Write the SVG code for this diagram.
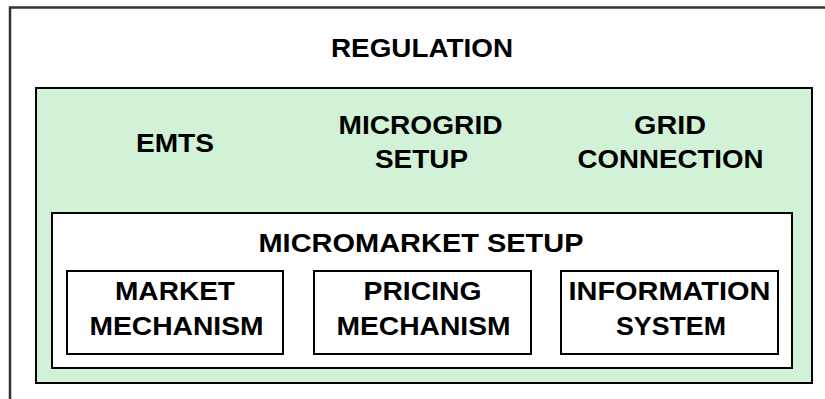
<svg xmlns="http://www.w3.org/2000/svg" width="825" height="399" viewBox="0 0 825 399">
<style>
.t{font-family:"Liberation Sans",Arial,sans-serif;font-weight:bold;font-size:25px;fill:#000;}
.box{fill:#fff;stroke:#000;stroke-width:2;}
</style>
<rect width="825" height="399" fill="#fff"/>
<g id="regulation">
<rect x="10" y="7.5" width="830" height="400" fill="#fff" stroke="#333" stroke-width="2.5"/>
<text class="t" x="331" y="57" textLength="182" lengthAdjust="spacingAndGlyphs">REGULATION</text>
</g>
<g id="green">
<rect x="36" y="88" width="776" height="295" fill="#d2f2d7" stroke="#000" stroke-width="2"/>
</g>
<g id="emts">
<text class="t" x="136" y="152" textLength="78" lengthAdjust="spacingAndGlyphs">EMTS</text>
</g>
<g id="microgrid-setup">
<text class="t" x="338.5" y="134" textLength="164" lengthAdjust="spacingAndGlyphs">MICROGRID</text>
<text class="t" x="375" y="168" textLength="93" lengthAdjust="spacingAndGlyphs">SETUP</text>
</g>
<g id="grid-connection">
<text class="t" x="634" y="134" textLength="72" lengthAdjust="spacingAndGlyphs">GRID</text>
<text class="t" x="577.5" y="168" textLength="186" lengthAdjust="spacingAndGlyphs">CONNECTION</text>
</g>
<g id="micromarket-setup">
<rect class="box" x="52" y="213" width="740" height="155"/>
<text class="t" x="258.5" y="251.5" textLength="325" lengthAdjust="spacingAndGlyphs">MICROMARKET SETUP</text>
</g>
<g id="market-mechanism">
<rect class="box" x="67" y="271" width="216" height="83"/>
<text class="t" x="115" y="300" textLength="120" lengthAdjust="spacingAndGlyphs">MARKET</text>
<text class="t" x="89.5" y="335" textLength="174" lengthAdjust="spacingAndGlyphs">MECHANISM</text>
</g>
<g id="pricing-mechanism">
<rect class="box" x="314" y="271" width="217" height="83"/>
<text class="t" x="363.5" y="300" textLength="118" lengthAdjust="spacingAndGlyphs">PRICING</text>
<text class="t" x="336.5" y="335" textLength="174" lengthAdjust="spacingAndGlyphs">MECHANISM</text>
</g>
<g id="information-system">
<rect class="box" x="561" y="271" width="217" height="83"/>
<text class="t" x="568.5" y="300" textLength="202" lengthAdjust="spacingAndGlyphs">INFORMATION</text>
<text class="t" x="616" y="335" textLength="110" lengthAdjust="spacingAndGlyphs">SYSTEM</text>
</g>
<g id="connectors"></g>
</svg>
